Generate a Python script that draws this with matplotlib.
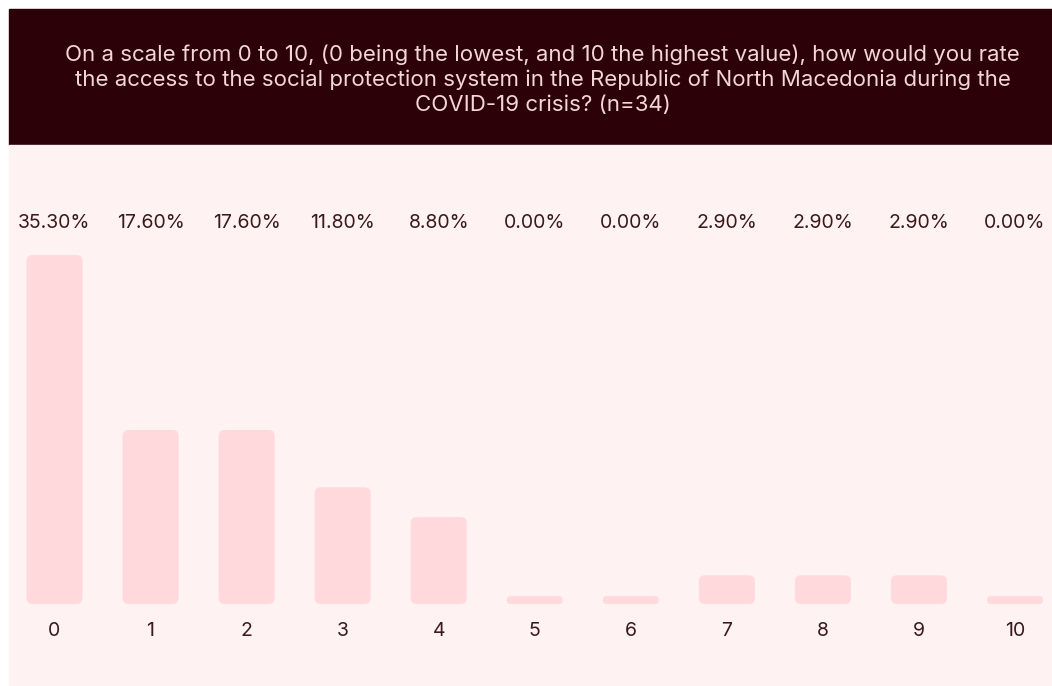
"""Rating of access to the social protection system (0-10 scale)."""

import matplotlib.pyplot as plt
from matplotlib.patches import FancyBboxPatch, Rectangle

plt.rcParams["font.family"] = ["Inter", "DejaVu Sans"]

# Data
categories = ["0", "1", "2", "3", "4", "5", "6", "7", "8", "9", "10"]
shares = [35.3, 17.6, 17.6, 11.8, 8.8, 0.0, 0.0, 2.9, 2.9, 2.9, 0.0]
value_labels = ["35.30%", "17.60%", "17.60%", "11.80%", "8.80%", "0.00%",
                "0.00%", "2.90%", "2.90%", "2.90%", "0.00%"]
title = ("On a scale from 0 to 10, (0 being the lowest, and 10 the highest value), how would you rate\n"
         "the access to the social protection system in the Republic of North Macedonia during the\n"
         "COVID-19 crisis? (n=34)")

HEADER = "#2c0208"
PANEL = "#fff2f3"
BAR = "#ffd9dc"
TEXT = "#3b1a1c"
TITLE_TEXT = "#f3d6d6"

W, H = 1052, 686
fig = plt.figure(figsize=(W / 100, H / 100), dpi=100)
fig.patch.set_facecolor("white")

# header band and panel background (figure pixel coords -> fractions)
fig.patches.append(Rectangle((9 / W, (H - 145) / H), (W - 9) / W, 136 / H,
                             transform=fig.transFigure, color=HEADER, zorder=-10))
fig.patches.append(Rectangle((9 / W, 0), (W - 9) / W, (H - 145) / H,
                             transform=fig.transFigure, color=PANEL, zorder=-10))
fig.text(0.516, (H - 79.5) / H, title, ha="center", va="center", color=TITLE_TEXT,
         fontsize=16, linespacing=1.3)

ax = fig.add_axes([9 / W, 82 / H, (W - 9) / W, 459 / H])
ax.set_facecolor("none")
x = list(range(len(categories)))
ymax = 35.3 * 459 / 349
ax.set_xlim(-0.4737, 10.385)
ax.set_ylim(0, ymax)

# draw bars through the axes, then swap them for rounded boxes
stub = 0.8  # minimum visible height for zero values
heights = [max(v, stub) for v in shares]
bars = ax.bar(x, heights, width=0.583, color=BAR)
px_x = (W - 9) / (10.385 + 0.4737)
px_y = 459 / ymax
aspect = px_x / px_y
for rect in bars.patches:
    x0, y0 = rect.get_x(), rect.get_y()
    w, h = rect.get_width(), rect.get_height()
    r_px = min(6, h * px_y / 2)
    box = FancyBboxPatch((x0, y0), w, h,
                         boxstyle=f"round,pad=0,rounding_size={r_px / px_x}",
                         mutation_aspect=aspect, facecolor=BAR, edgecolor="none")
    ax.add_patch(box)
    rect.set_visible(False)

for xi, lab in zip(x, value_labels):
    ax.text(xi, 0.829, lab, transform=ax.get_xaxis_transform(), ha="center",
            va="center", fontsize=14, color=TEXT)

ax.set_xticks(x)
ax.set_xticklabels(categories, fontsize=14, color=TEXT)
ax.tick_params(axis="x", length=0, pad=13)
ax.set_yticks([])
for s in ax.spines.values():
    s.set_visible(False)

fig.savefig("out.png", dpi=100, facecolor=fig.get_facecolor())
